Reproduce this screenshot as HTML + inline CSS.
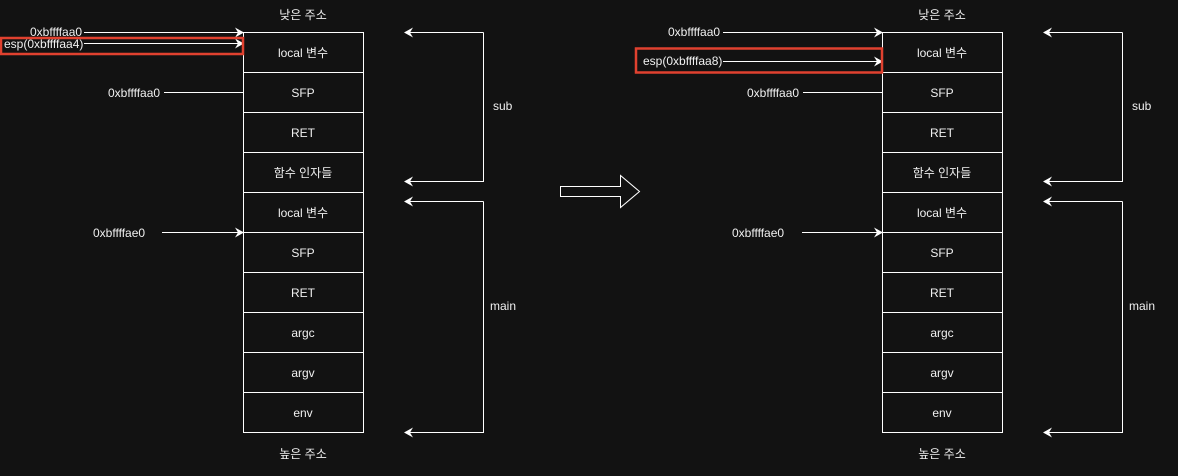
<!DOCTYPE html>
<html><head><meta charset="utf-8"><style>
html,body{margin:0;padding:0;background:#121212;}
svg text{font-family:"Liberation Sans","Noto Sans CJK KR",sans-serif;font-size:12px;fill:#f0f0f0;}
</style></head><body>
<svg width="1178" height="471" viewBox="0 0 1178 471" xmlns="http://www.w3.org/2000/svg">
<defs>
<marker id="a" markerWidth="10" markerHeight="10" refX="8" refY="5" orient="auto" markerUnits="userSpaceOnUse">
<path d="M0,0 L9,5 L0,10 L3,5 Z" fill="#fff"/></marker>
</defs>
<g id="L">
<text x="303" y="19" text-anchor="middle">낮은 주소</text>
<text x="303" y="458" text-anchor="middle">높은 주소</text>
<g fill="none" stroke="#fff" stroke-width="1">
<rect x="243.5" y="32.5" width="120" height="40"/>
<rect x="243.5" y="72.5" width="120" height="40"/>
<rect x="243.5" y="112.5" width="120" height="40"/>
<rect x="243.5" y="152.5" width="120" height="40"/>
<rect x="243.5" y="192.5" width="120" height="40"/>
<rect x="243.5" y="232.5" width="120" height="40"/>
<rect x="243.5" y="272.5" width="120" height="40"/>
<rect x="243.5" y="312.5" width="120" height="40"/>
<rect x="243.5" y="352.5" width="120" height="40"/>
<rect x="243.5" y="392.5" width="120" height="40"/>
<polyline points="483.5,32.5 483.5,181.5 405,181.5" marker-end="url(#a)"/>
<line x1="483.5" y1="32.5" x2="405" y2="32.5" marker-end="url(#a)"/>
<polyline points="483.5,201.5 483.5,432.5 405,432.5" marker-end="url(#a)"/>
<line x1="483.5" y1="201.5" x2="405" y2="201.5" marker-end="url(#a)"/>
</g>
<g text-anchor="middle">
<text x="303" y="57">local 변수</text>
<text x="303" y="97">SFP</text>
<text x="303" y="137">RET</text>
<text x="303" y="177">함수 인자들</text>
<text x="303" y="217">local 변수</text>
<text x="303" y="257">SFP</text>
<text x="303" y="297">RET</text>
<text x="303" y="337">argc</text>
<text x="303" y="377">argv</text>
<text x="303" y="417">env</text>
</g>
<text x="493" y="110">sub</text>
<text x="490" y="310">main</text>
</g>
<use href="#L" x="639"/>
<!-- left annotations -->
<g stroke="#fff" fill="none">
<line x1="84" y1="32.5" x2="243" y2="32.5" marker-end="url(#a)"/>
<line x1="84" y1="43.5" x2="243" y2="43.5" marker-end="url(#a)"/>
<line x1="164" y1="92.5" x2="243" y2="92.5"/>
<line x1="162" y1="232.5" x2="243" y2="232.5" marker-end="url(#a)"/>
<rect x="1" y="38" width="242" height="16" stroke="#e0412f" stroke-width="2.5"/>
</g>
<text x="30" y="36">0xbffffaa0</text>
<text x="4" y="48">esp(0xbffffaa4)</text>
<text x="108" y="97">0xbffffaa0</text>
<text x="93" y="237">0xbffffae0</text>
<!-- right annotations -->
<g stroke="#fff" fill="none">
<line x1="723" y1="32.5" x2="882" y2="32.5" marker-end="url(#a)"/>
<line x1="723" y1="61.5" x2="882" y2="61.5" marker-end="url(#a)"/>
<line x1="803" y1="92.5" x2="882" y2="92.5"/>
<line x1="802" y1="232.5" x2="882" y2="232.5" marker-end="url(#a)"/>
<rect x="636" y="48.5" width="246" height="24" stroke="#e0412f" stroke-width="2.5"/>
</g>
<text x="668" y="36">0xbffffaa0</text>
<text x="643" y="65">esp(0xbffffaa8)</text>
<text x="747" y="97">0xbffffaa0</text>
<text x="732" y="237">0xbffffae0</text>
<!-- big arrow -->
<polygon points="560.5,186.5 620.5,186.5 620.5,175.5 639.5,191.5 620.5,207.5 620.5,196.5 560.5,196.5" fill="none" stroke="#fff"/>
</svg>
</body></html>
